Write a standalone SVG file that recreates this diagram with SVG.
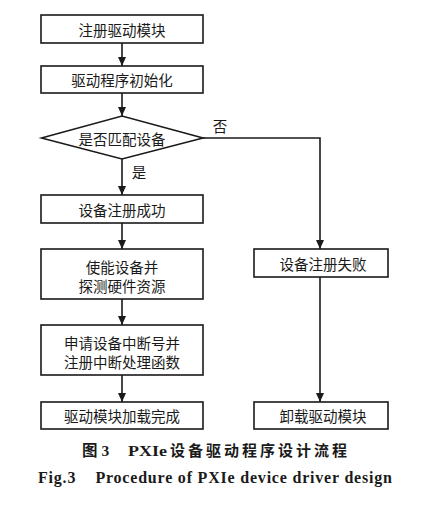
<svg xmlns="http://www.w3.org/2000/svg" width="423" height="507" viewBox="0 0 423 507">
<defs>
<marker id="arr" markerWidth="10" markerHeight="10" refX="9" refY="5" orient="auto" markerUnits="userSpaceOnUse">
<path d="M0,1 L9,5 L0,9 Z" fill="#1a1a1a"/>
</marker>
<style>
.box{fill:#fff;stroke:#1a1a1a;stroke-width:1.6}
.t{font-family:"Noto Sans CJK SC","Noto Sans",sans-serif;font-size:14.5px;fill:#1a1a1a;text-anchor:middle;dominant-baseline:central}
.c{stroke:#1a1a1a;stroke-width:1.6;fill:none}
.cap{font-family:"Liberation Serif","Noto Sans CJK SC",serif;font-weight:bold;fill:#1a1a1a}
</style>
</defs>
<rect width="423" height="507" fill="#fff"/>
<g id="connectors">
<line class="c" x1="122" y1="43" x2="122" y2="66" marker-end="url(#arr)"/>
<line class="c" x1="122" y1="93" x2="122" y2="116" marker-end="url(#arr)"/>
<line class="c" x1="122" y1="159" x2="122" y2="195" marker-end="url(#arr)"/>
<line class="c" x1="122" y1="223" x2="122" y2="249" marker-end="url(#arr)"/>
<line class="c" x1="122" y1="299" x2="122" y2="325" marker-end="url(#arr)"/>
<line class="c" x1="122" y1="375" x2="122" y2="402" marker-end="url(#arr)"/>
<polyline class="c" points="203,138 320,138 320,249" marker-end="url(#arr)"/>
<line class="c" x1="320" y1="277" x2="320" y2="402" marker-end="url(#arr)"/>
<text class="t" x="220" y="125">否</text>
<text class="t" x="139" y="171">是</text>
</g>
<g id="n1"><rect class="box" x="41" y="15" width="162" height="28"/><text class="t" x="122" y="29">注册驱动模块</text></g>
<g id="n2"><rect class="box" x="41" y="66" width="162" height="27"/><text class="t" x="122" y="79.5">驱动程序初始化</text></g>
<g id="n3"><polygon class="box" points="41.5,138 122,116 203,138 122,159"/><text class="t" x="122" y="138">是否匹配设备</text></g>
<g id="n4"><rect class="box" x="41" y="195" width="162" height="28"/><text class="t" x="122" y="209">设备注册成功</text></g>
<g id="n5"><rect class="box" x="41" y="249" width="162" height="50"/><text class="t" x="122" y="266">使能设备并</text><text class="t" x="122" y="285">探测硬件资源</text></g>
<g id="n6"><rect class="box" x="41" y="325" width="162" height="50"/><text class="t" x="122" y="342.5">申请设备中断号并</text><text class="t" x="122" y="361.5">注册中断处理函数</text></g>
<g id="n7"><rect class="box" x="41" y="402" width="162" height="27"/><text class="t" x="122" y="415.5">驱动模块加载完成</text></g>
<g id="n8"><rect class="box" x="254" y="249" width="134" height="28"/><text class="t" x="323" y="263">设备注册失败</text></g>
<g id="n9"><rect class="box" x="254" y="402" width="134" height="27"/><text class="t" x="323" y="415.5">卸载驱动模块</text></g>
<g id="caption">
<text class="cap" x="82" y="456" font-size="15.5" xml:space="preserve">图 3</text>
<text class="cap" x="128" y="456" font-size="15.5" textLength="39" lengthAdjust="spacingAndGlyphs">PXIe</text>
<text class="cap" x="170" y="456" font-size="15" textLength="177" lengthAdjust="spacing">设备驱动程序设计流程</text>
<text class="cap" x="38" y="483" font-size="16" textLength="354" lengthAdjust="spacing" xml:space="preserve">Fig.3    Procedure of PXIe device driver design</text>
</g>
</svg>
